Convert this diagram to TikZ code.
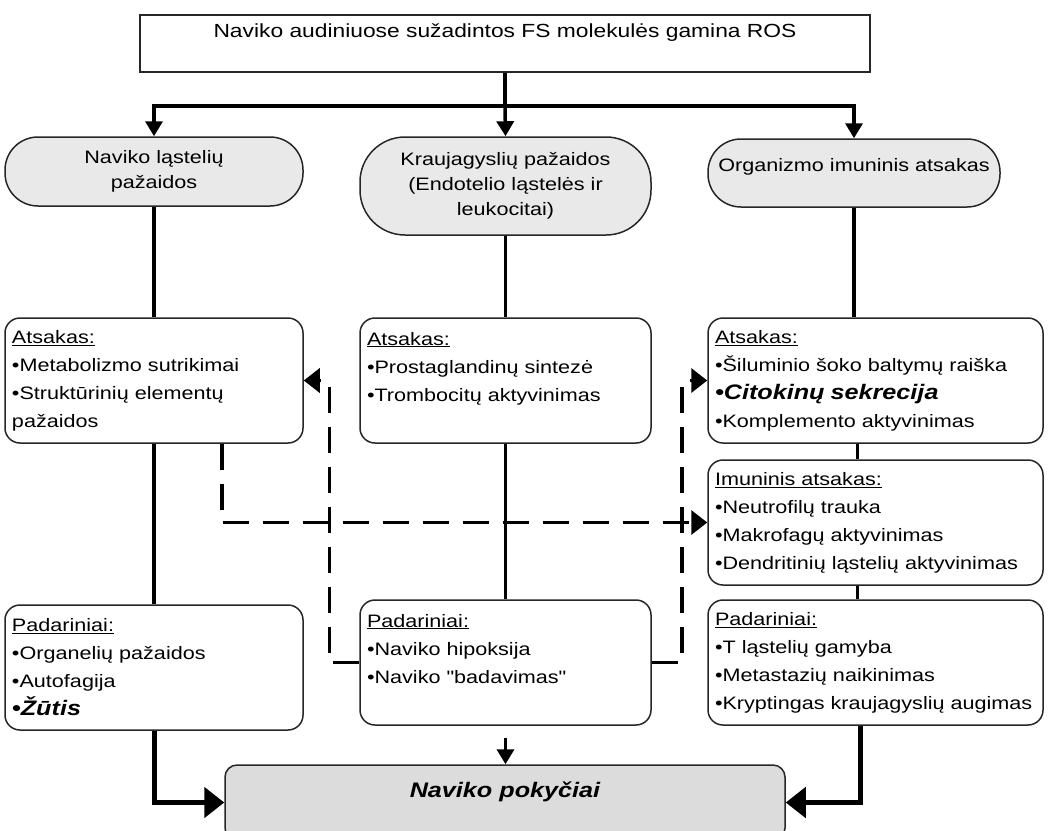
\documentclass[tikz,border=0pt]{standalone}
\usepackage{fontspec}
\setmainfont{Liberation Sans}[FakeStretch=1.2, Ligatures=TeXOff]
\usetikzlibrary{arrows.meta, positioning, calc}
\definecolor{ovalgray}{RGB}{233, 233, 233}
\definecolor{resultgray}{RGB}{220, 220, 220}
\newcommand{\bigit}[1]{{\fontsize{21pt}{28pt}\selectfont\bfseries\itshape #1}}

\begin{document}
\begin{tikzpicture}[
    x=1pt, y=-1pt,
    base/.style={draw=black!85, line width=1.5pt, fill=white, font=\fontsize{18pt}{25pt}\selectfont},
    headbox/.style={base, align=center, minimum width=730pt, minimum height=57pt, font=\fontsize{19pt}{25pt}\selectfont},
    oval/.style={base, fill=ovalgray, align=center, rounded corners=33pt},
    listbox/.style={base, align=left, rounded corners=15pt, inner xsep=7pt, minimum height=125pt, font=\fontsize{18pt}{28pt}\selectfont},
    resultbox/.style={base, fill=resultgray, align=center, rounded corners=12pt, minimum width=560pt, minimum height=75pt, font=\fontsize{21pt}{25pt}\selectfont\bfseries\itshape},
    link/.style={line width=3.5pt, black},
    arrow/.style={link, -{Triangle[length=15pt, width=17pt]}},
    bigarrow/.style={line width=5pt, black, -{Triangle[length=20pt, width=30pt]}},
    dasharrow/.style={link, dash pattern=on 26pt off 14pt, -{Triangle[length=16pt, width=24pt]}}
]
    \useasboundingbox (0,0) rectangle (1048,830);

    % --- SOURCE ---
    \node[headbox] (source) at (505, 43.5) {Naviko audiniuose sužadintos FS molekulės gamina ROS\\ ~};

    % --- THREE BRANCHES ---
    \node[oval, minimum width=298pt, minimum height=69pt] (cellDmg) at (154, 171.5) {Naviko ląstelių\\ pažaidos};
    \node[oval, minimum width=291pt, minimum height=98pt, rounded corners=45pt] (vesselDmg) at (505.5, 186) {Kraujagyslių pažaidos\\ (Endotelio ląstelės ir\\ leukocitai)};
    \node[oval, minimum width=292pt, minimum height=68pt] (immune) at (854, 173) {Organizmo imuninis atsakas\\[-9pt] ~};

    \draw[link] (source.south) -- ++(0, 33) coordinate (fork);
    \draw[arrow] (fork) -| (cellDmg.north);
    \draw[arrow] (fork) -- (vesselDmg.north);
    \draw[arrow] (fork) -| (immune.north);

    % --- RESPONSES ---
    \node[listbox, text width=284pt] (cellResp) at (154, 380.5) {\underline{Atsakas:}\\ •Metabolizmo sutrikimai\\ •Struktūrinių elementų\\ pažaidos};
    \node[listbox, text width=277pt] (vesselResp) at (505.5, 380.5) {\underline{Atsakas:}\\ •Prostaglandinų sintezė\\ •Trombocitų aktyvinimas\\ ~};
    \node[listbox, text width=321pt] (immuneResp) at (875.5, 380.5) {\underline{Atsakas:}\\ •Šiluminio šoko baltymų raiška\\ \bigit{•Citokinų sekrecija}\\ •Komplemento aktyvinimas};
    \node[listbox, text width=321pt] (immuneAct) at (875.5, 522.5) {\underline{Imuninis atsakas:}\\ •Neutrofilų trauka\\ •Makrofagų aktyvinimas\\ •Dendritinių ląstelių aktyvinimas};

    % --- CONSEQUENCES ---
    \node[listbox, text width=284pt] (cellRes) at (154, 667.5) {\underline{Padariniai:}\\ •Organelių pažaidos\\ •Autofagija\\ \bigit{•Žūtis}};
    \node[listbox, text width=277pt] (vesselRes) at (505.5, 662.5) {\underline{Padariniai:}\\ •Naviko hipoksija\\ •Naviko "badavimas"\\ ~};
    \node[listbox, text width=321pt] (immuneRes) at (875.5, 662.5) {\underline{Padariniai:}\\ •T ląstelių gamyba\\ •Metastazių naikinimas\\ •Kryptingas kraujagyslių augimas};

    \draw[link] (cellDmg) -- (cellResp);
    \draw[link] (cellResp) -- (cellRes);
    \draw[link] (vesselDmg) -- (vesselResp);
    \draw[link] (vesselResp) -- (vesselRes);
    \draw[link] (immune.south) -- (immune.south |- immuneResp.north);
    \draw[link] ([xshift=-18pt]immuneResp.south) -- ([xshift=-18pt]immuneResp.south |- immuneAct.north);
    \draw[link] ([xshift=-18pt]immuneAct.south) -- ([xshift=-18pt]immuneAct.south |- immuneRes.north);

    % cross effects
    \draw[dasharrow] ([xshift=68pt]cellResp.south) |- (immuneAct.west);
    \draw[dasharrow] (vesselRes.west) -- ++(-30, 0) |- (cellResp.east);
    \draw[dasharrow] (vesselRes.east) -- ++(30, 0) |- (immuneResp.west);

    % --- RESULT ---
    \node[resultbox] (result) at (505, 802.5) {Naviko pokyčiai\\ ~};

    \draw[bigarrow] (cellRes.south) |- (result.west);
    \draw[bigarrow] ([xshift=-15pt]immuneRes.south) |- (result.east);
    \draw[arrow, shorten <=12pt] (vesselRes.south) -- (vesselRes.south |- result.north);

\end{tikzpicture}
\end{document}
